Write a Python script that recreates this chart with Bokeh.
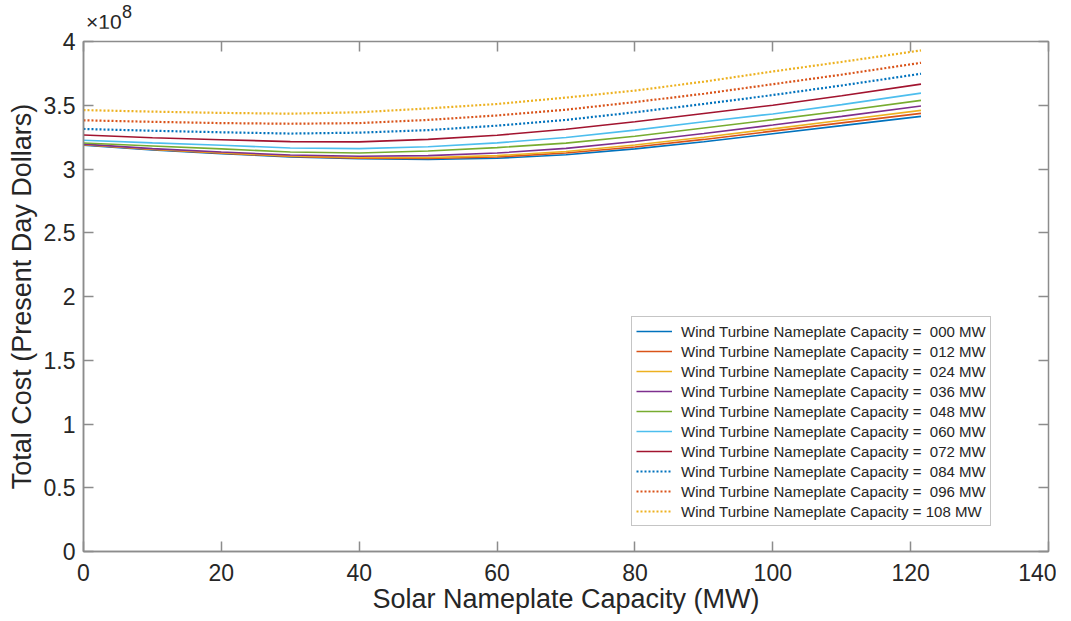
from bokeh.plotting import figure
from bokeh.layouts import column
from bokeh.models import LinearAxis, Legend, LegendItem, Div, FixedTicker, CustomJSTickFormatter
from bokeh.embed import file_html
from bokeh.resources import INLINE

# Solar nameplate capacity (MW)
solar_mw = [0, 10, 20, 30, 40, 50, 60, 70, 80, 90, 100, 110, 121.5]

# Total cost in units of 1e8 present-day dollars, one series per wind capacity
wind_mw = ["000", "012", "024", "036", "048", "060", "072", "084", "096", "108"]
cost_000 = [3.187, 3.150, 3.120, 3.095, 3.080, 3.074, 3.084, 3.112, 3.158, 3.214, 3.277, 3.340, 3.413]
cost_012 = [3.190, 3.153, 3.124, 3.098, 3.085, 3.082, 3.094, 3.125, 3.173, 3.232, 3.297, 3.362, 3.436]
cost_024 = [3.192, 3.155, 3.127, 3.102, 3.090, 3.090, 3.105, 3.137, 3.188, 3.249, 3.315, 3.382, 3.460]
cost_036 = [3.195, 3.160, 3.133, 3.110, 3.100, 3.105, 3.125, 3.162, 3.216, 3.279, 3.345, 3.413, 3.494]
cost_048 = [3.204, 3.180, 3.158, 3.133, 3.126, 3.141, 3.168, 3.203, 3.257, 3.322, 3.387, 3.455, 3.538]
cost_060 = [3.225, 3.205, 3.186, 3.165, 3.160, 3.175, 3.205, 3.247, 3.305, 3.370, 3.432, 3.505, 3.595]
cost_072 = [3.267, 3.245, 3.230, 3.215, 3.213, 3.232, 3.265, 3.312, 3.370, 3.435, 3.500, 3.575, 3.666]
cost_084 = [3.314, 3.300, 3.288, 3.278, 3.285, 3.305, 3.340, 3.385, 3.445, 3.510, 3.580, 3.655, 3.747]
cost_096 = [3.382, 3.370, 3.360, 3.355, 3.360, 3.385, 3.420, 3.465, 3.525, 3.590, 3.665, 3.740, 3.833]
cost_108 = [3.462, 3.450, 3.440, 3.434, 3.445, 3.475, 3.510, 3.560, 3.615, 3.685, 3.765, 3.840, 3.930]

series = [cost_000, cost_012, cost_024, cost_036, cost_048,
          cost_060, cost_072, cost_084, cost_096, cost_108]
colors = ["#0072BD", "#D95319", "#EDB120", "#7E2F8E", "#77AC30",
          "#4DBEEE", "#A2142F", "#0072BD", "#D95319", "#EDB120"]
dashes = ["solid"] * 7 + ["2 2"] * 3

x_ticks = [0, 20, 40, 60, 80, 100, 120, 140]
y_ticks = [0, 0.5, 1, 1.5, 2, 2.5, 3, 3.5, 4]
y_tick_labels = ["0", "0.5", "1", "1.5", "2", "2.5", "3", "3.5", "4"]
y_exponent = "8"

FONT = "Liberation Sans"
AXIS_GRAY = "#8c8c8c"
TEXT = "#262626"

p = figure(frame_width=965, frame_height=510,
           min_border_left=83, min_border_right=8,
           min_border_top=13, min_border_bottom=69,
           x_range=(0, 140), y_range=(0, 4),
           output_backend="svg", toolbar_location=None)
p.background_fill_color = "white"
p.border_fill_color = "white"
p.grid.visible = False
p.outline_line_color = AXIS_GRAY
p.outline_line_width = 1.5

for ax in (p.xaxis[0], p.yaxis[0]):
    ax.axis_line_color = AXIS_GRAY
    ax.axis_line_width = 1.5
    ax.major_tick_line_color = AXIS_GRAY
    ax.major_tick_line_width = 1.5
    ax.major_tick_in = 10
    ax.major_tick_out = 0
    ax.minor_tick_line_color = None
    ax.major_label_text_font = FONT
    ax.major_label_text_font_size = "23px"
    ax.major_label_text_color = TEXT
    ax.axis_label_text_font = FONT
    ax.axis_label_text_font_size = "27px"
    ax.axis_label_text_font_style = "normal"
    ax.axis_label_text_color = TEXT

p.xaxis[0].ticker = FixedTicker(ticks=x_ticks)
p.yaxis[0].ticker = FixedTicker(ticks=y_ticks)
p.yaxis[0].major_label_overrides = {t: l for t, l in zip(y_ticks, y_tick_labels)}
p.xaxis[0].axis_label = "Solar Nameplate Capacity (MW)"
p.yaxis[0].axis_label = "Total Cost (Present Day Dollars)"
p.xaxis[0].major_label_standoff = 12
p.yaxis[0].major_label_standoff = 8
p.xaxis[0].axis_label_standoff = 0
p.yaxis[0].axis_label_standoff = 4

# mirrored ticks on top and right (box style), no labels
blank = CustomJSTickFormatter(code="return ''")
top = LinearAxis(ticker=FixedTicker(ticks=x_ticks), formatter=blank)
right = LinearAxis(ticker=FixedTicker(ticks=y_ticks), formatter=blank)
for ax in (top, right):
    ax.axis_line_color = None
    ax.major_tick_line_color = AXIS_GRAY
    ax.major_tick_line_width = 1.5
    ax.major_tick_in = 10
    ax.major_tick_out = 0
    ax.minor_tick_line_color = None
    ax.major_label_standoff = 0
p.add_layout(top, "above")
p.add_layout(right, "right")

items = []
for i, (vals, c, d) in enumerate(zip(series, colors, dashes)):
    r = p.line(solar_mw, vals, line_color=c, line_width=1.6 if d == "solid" else 2.2,
               line_dash=d)
    sep = " " if wind_mw[i] == "108" else "  "
    items.append(LegendItem(label="Wind Turbine Nameplate Capacity =" + sep + wind_mw[i] + " MW",
                            renderers=[r]))

legend = Legend(items=items, location=(548, 25))
legend.label_text_font = FONT
legend.label_text_font_size = "15px"
legend.label_text_color = TEXT
legend.glyph_width = 36
legend.glyph_height = 20
legend.label_height = 20
legend.label_standoff = 9
legend.spacing = 0
legend.padding = 4
legend.margin = 0
legend.border_line_color = AXIS_GRAY
legend.border_line_width = 1.5
legend.background_fill_color = "white"
p.add_layout(legend, "center")

# exponent of the y axis, drawn above the top-left corner of the axes
exp_html = (
    "<div style=\"position:relative;width:120px;height:28px;"
    "font-family:'Liberation Sans';color:%s\">"
    "<span style=\"position:absolute;left:6px;top:11px;font-size:21px;line-height:21px\">\u00d710</span>"
    "<span style=\"position:absolute;left:42px;top:3px;font-size:18px;line-height:18px\">%s</span>"
    "</div>" % (TEXT, y_exponent)
)
exp_div = Div(text=exp_html, width=120, height=28, margin=(0, 0, 0, 80))

layout = column(exp_div, p, spacing=0)
open("out.html", "w").write(file_html(layout, INLINE))
